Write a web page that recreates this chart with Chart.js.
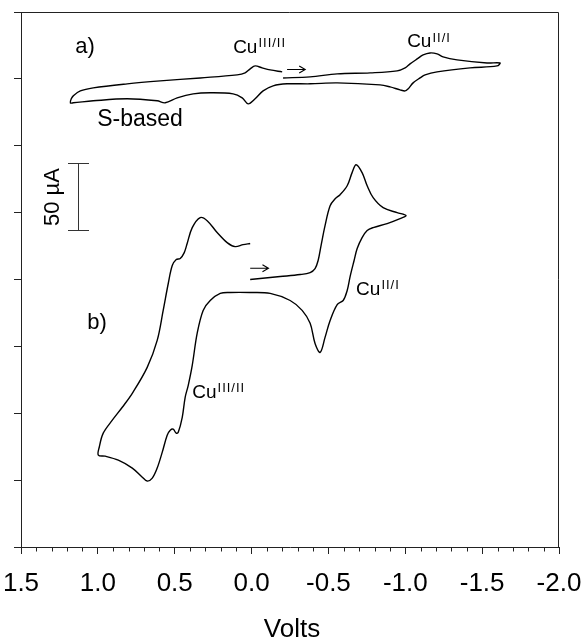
<!DOCTYPE html>
<html><head><meta charset="utf-8">
<script src="https://cdn.jsdelivr.net/npm/chart.js@4.4.1/dist/chart.umd.min.js"></script>
<style>html,body{margin:0;padding:0;background:#fff;}#wrap{width:584px;height:641px;position:relative;}</style>
</head><body><div id="wrap"><canvas id="c"></canvas></div>
<script>
// Axis ticks
const xTickValues = [1.5, 1.0, 0.5, 0.0, -0.5, -1.0, -1.5, -2.0];
const yTickValues = [0, 50, 100, 150, 200, 250, 300, 350, 400];

// Curve a) potential (V) and current (µA, offset)
const curveA_volts = [-0.205,-0.381,-0.557,-0.771,-0.947,-0.999,-1.031,-1.077,-1.116,-1.161,
  -1.207,-1.246,-1.337,-1.532,-1.616,-1.597,-1.421,-1.207,-1.129,-1.096,
  -1.051,-1.018,-0.999,-0.966,-0.901,-0.836,-0.557,-0.381,-0.231,-0.140,
  -0.075,-0.023,0.022,0.061,0.120,0.269,0.380,0.484,0.562,0.614,
  0.809,1.030,1.160,1.179,1.173,1.160,1.114,1.030,0.809,0.594,
  0.334,0.094,0.042,0.009,-0.023,-0.069,-0.121,-0.199];
const curveA_current = [350.7,351.5,353.7,354.5,356.0,358.2,361.2,364.9,367.9,369.4,
  368.7,366.4,364.2,361.9,361.9,359.7,358.2,355.2,353.0,350.7,
  347.0,342.5,341.0,341.8,344.0,345.5,347.0,346.3,346.3,344.8,
  341.0,335.1,331.3,335.8,338.8,339.6,338.8,335.8,332.1,333.6,
  335.1,333.6,332.1,332.1,335.1,337.3,341.0,343.3,346.3,348.5,
  350.7,353.0,354.5,357.5,359.7,358.2,356.7,355.2];

// Curve b)
const curveB_volts = [0.009,-0.186,-0.316,-0.381,-0.413,-0.433,-0.452,-0.478,-0.511,-0.544,
  -0.576,-0.622,-0.654,-0.680,-0.719,-0.752,-0.791,-0.856,-0.947,-1.005,
  -0.966,-0.882,-0.791,-0.752,-0.719,-0.687,-0.667,-0.641,-0.622,-0.596,
  -0.557,-0.511,-0.478,-0.446,-0.413,-0.381,-0.329,-0.251,-0.121,0.009,
  0.139,0.204,0.269,0.315,0.354,0.386,0.412,0.432,0.451,0.477,
  0.490,0.510,0.529,0.549,0.581,0.614,0.646,0.679,0.711,0.776,
  0.867,0.952,0.997,0.991,0.965,0.906,0.841,0.776,0.679,0.614,
  0.575,0.542,0.516,0.490,0.464,0.438,0.419,0.386,0.334,0.289,
  0.224,0.159,0.107,0.055,0.009];
const curveB_current = [200.0,202.2,203.7,205.2,208.2,214.2,225.4,240.3,255.2,260.4,
  263.4,270.1,279.9,285.8,279.9,270.1,261.2,253.7,250.0,247.8,
  245.5,241.8,238.8,236.6,231.3,223.1,214.2,202.2,191.8,184.3,
  181.3,169.4,156.7,145.5,152.2,167.2,176.9,184.3,189.6,190.3,
  190.3,189.6,184.3,176.9,159.7,135.8,120.9,111.9,97.0,85.8,
  85.1,88.1,87.3,83.6,70.9,59.0,51.5,49.3,52.2,59.0,
  64.9,67.9,68.7,74.6,85.1,94.8,104.5,114.9,134.3,154.5,
  176.9,197.0,210.4,214.9,215.7,220.1,226.9,238.8,246.3,244.0,
  235.1,227.6,224.6,226.1,226.9];

// Annotations (anchored in data coordinates)
const textLabels = [
  {text:'a)', v:1.147, i:369.2, size:22},
  {text:'Cu', sup:'III/II', v:0.120, i:369.2, size:19},
  {text:'Cu', sup:'II/I', v:-1.012, i:373.6, size:19},
  {text:'S-based', v:1.004, i:314.6, size:23},
  {text:'b)', v:1.069, i:163.0, size:22},
  {text:'Cu', sup:'III/II', v:0.386, i:111.5, size:19},
  {text:'Cu', sup:'II/I', v:-0.680, i:188.4, size:19}
];
const scanArrows = [
  {v1:-0.231, v2:-0.349, i:357.0},
  {v1:0.009, v2:-0.110, i:208.4}
];
const scaleBar = {v:1.131, i1:237, i2:287, label:'50 µA', labelV:1.254};

const FONT = '"Liberation Sans", Arial, sans-serif';
const INK = '#000';
const AXIS = '#222';

const overlay = {
  id: 'overlay',
  afterDraw(chart) {
    const {ctx, chartArea: ca, scales: {x, y}} = chart;
    ctx.save();
    // top & right frame
    ctx.strokeStyle = AXIS; ctx.lineWidth = 1;
    const t = Math.round(ca.top) + 0.5, r = Math.round(ca.right) - 0.5;
    ctx.beginPath();
    ctx.moveTo(ca.left, t); ctx.lineTo(r, t); ctx.lineTo(r, ca.bottom);
    ctx.stroke();
    // minor x ticks every 0.1 V
    const b = Math.round(ca.bottom);
    ctx.beginPath();
    for (let k = -20; k <= 15; k++) {
      if (k % 5 === 0) continue;
      const px = Math.round(x.getPixelForValue(k / 10)) + 0.5;
      ctx.moveTo(px, b); ctx.lineTo(px, b + 4.5);
    }
    ctx.stroke();
    // scale bar
    ctx.strokeStyle = '#333'; ctx.lineWidth = 1;
    const sbx = Math.round(x.getPixelForValue(scaleBar.v)) + 0.5;
    const sy1 = Math.round(y.getPixelForValue(scaleBar.i1)) + 0.5;
    const sy2 = Math.round(y.getPixelForValue(scaleBar.i2)) + 0.5;
    ctx.beginPath();
    ctx.moveTo(sbx, sy1); ctx.lineTo(sbx, sy2);
    ctx.moveTo(sbx - 10.5, sy1); ctx.lineTo(sbx + 10.5, sy1);
    ctx.moveTo(sbx - 10.5, sy2); ctx.lineTo(sbx + 10.5, sy2);
    ctx.stroke();
    ctx.fillStyle = INK;
    ctx.save();
    ctx.translate(x.getPixelForValue(scaleBar.labelV), (sy1 + sy2) / 2);
    ctx.rotate(-Math.PI / 2);
    ctx.font = '22px ' + FONT;
    ctx.textAlign = 'center'; ctx.textBaseline = 'alphabetic';
    ctx.fillText(scaleBar.label, 0, 0);
    ctx.restore();
    // scan direction arrows
    ctx.strokeStyle = INK; ctx.lineWidth = 1.1;
    scanArrows.forEach(a => {
      const x1 = x.getPixelForValue(a.v1), x2 = x.getPixelForValue(a.v2), yy = y.getPixelForValue(a.i);
      ctx.beginPath();
      ctx.moveTo(x1, yy); ctx.lineTo(x2, yy);
      ctx.moveTo(x2 - 6, yy - 3.5); ctx.lineTo(x2, yy); ctx.lineTo(x2 - 6, yy + 3.5);
      ctx.stroke();
    });
    // text labels
    ctx.textAlign = 'left'; ctx.textBaseline = 'alphabetic';
    textLabels.forEach(l => {
      const px = x.getPixelForValue(l.v), py = y.getPixelForValue(l.i);
      ctx.font = l.size + 'px ' + FONT;
      ctx.fillText(l.text, px, py);
      if (l.sup) {
        const w = ctx.measureText(l.text).width;
        const ss = 13;
        ctx.font = ss + 'px ' + FONT;
        ctx.letterSpacing = '1px';
        ctx.fillText(l.sup, px + w + 1, py - (l.size - ss) * 0.716 - 1.5);
        ctx.letterSpacing = '0px';
      }
    });
    // axis title
    ctx.font = '26px ' + FONT;
    ctx.textAlign = 'center';
    ctx.fillText('Volts', (ca.left + ca.right) / 2 + 2, 637);
    ctx.restore();
  }
};

new Chart(document.getElementById('c'), {
  type: 'scatter',
  data: {
    datasets: [
      {data: curveA_volts.map((v, k) => ({x: v, y: curveA_current[k]}))},
      {data: curveB_volts.map((v, k) => ({x: v, y: curveB_current[k]}))}
    ].map(d => Object.assign(d, {showLine: true, borderColor: INK, borderWidth: 1.4,
      pointRadius: 0, pointHoverRadius: 0, tension: 0.35, fill: false}))
  },
  options: {
    responsive: true, maintainAspectRatio: false, animation: false, devicePixelRatio: 1,
    layout: {padding: {left: 0, right: 25, top: 12, bottom: 0}},
    plugins: {legend: {display: false}, tooltip: {enabled: false}},
    scales: {
      x: {
        type: 'linear', reverse: true, min: -2.0, max: 1.5,
        afterBuildTicks: s => { s.ticks = xTickValues.map(v => ({value: v})); },
        afterFit: s => { s.height = 94; s.paddingLeft = 0; s.paddingRight = 0; },
        ticks: {callback: v => Number(v).toFixed(1), font: {family: FONT, size: 26}, color: INK,
          padding: 14, maxRotation: 0, autoSkip: false},
        grid: {drawOnChartArea: false, drawTicks: true, tickLength: 7, color: AXIS, tickColor: AXIS},
        border: {display: true, color: AXIS, width: 1}
      },
      y: {
        type: 'linear', min: 0, max: 400,
        afterBuildTicks: s => { s.ticks = yTickValues.map(v => ({value: v})); },
        afterFit: s => { s.width = 21; },
        ticks: {display: false},
        grid: {drawOnChartArea: false, drawTicks: true, tickLength: 7, color: AXIS, tickColor: AXIS},
        border: {display: true, color: AXIS, width: 1}
      }
    }
  },
  plugins: [overlay]
});
</script>
</body></html>
